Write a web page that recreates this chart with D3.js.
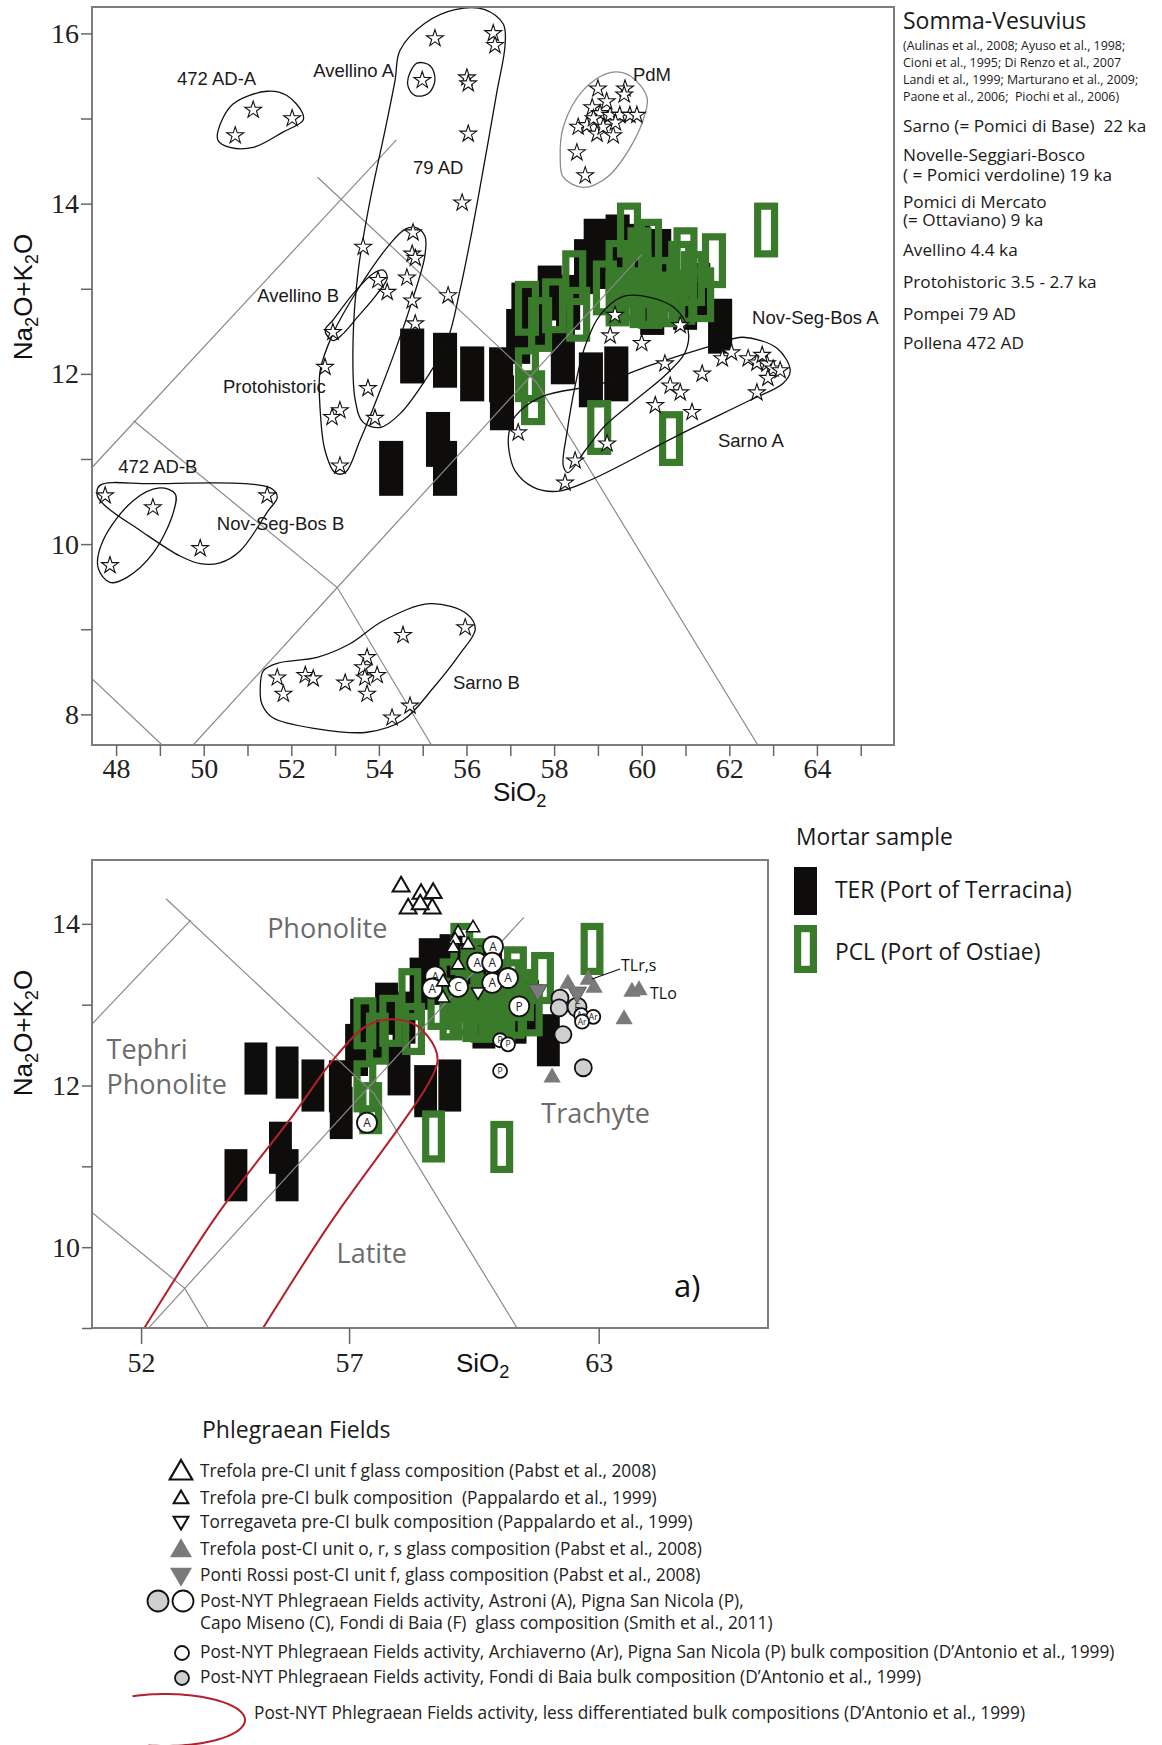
<!DOCTYPE html>
<meta charset="utf-8">
<head>
<style>
  body { margin: 0; background: #fff; }
  svg { display: block; font-family: 'Open Sans', sans-serif; }
  .tas { fill: none; stroke: #8a8a8a; stroke-width: 1.2px; }
  .field { fill: none; stroke: #111; stroke-width: 1.3px; }
  .axis line { stroke: #666; stroke-width: 1.5px; }
  .axis text { font-family: 'Liberation Serif', serif; font-size: 28px; fill: #222; }
  .lbl { font-family: 'Liberation Sans', Arial, sans-serif; font-size: 18.5px; fill: #1a1a1a; }
  .rock { font-size: 27px; fill: #6b6b6b; }
  .leg { font-size: 17.3px; fill: #222; white-space: pre; }
</style>
</head>
<body>
<svg width="1162" height="1745"></svg>
<script src="https://d3js.org/d3.v7.min.js"></script>
<script>

// ---- mortar samples, centre of each analysis box [SiO2, Na2O+K2O] ----
const terSamples = [
  [54.76,12.21],[55.51,12.16],[56.13,12.0],[54.28,10.89],[55.35,11.23],[55.51,10.89],
  [56.79,11.99],[56.81,11.66],[57.18,12.44],[57.52,12.64],[58.32,12.84],[58.73,13.26],
  [59.12,13.32],[58.2,12.2],[58.84,11.93],[59.42,12.0],[59.92,13.44],[60.4,13.38],
  [60.24,12.78],[61.29,12.98],[61.79,12.56],[60.99,12.84],[58.95,13.5],[59.45,13.55],
  [57.9,12.95],[57.3,12.75]
];
const pclSamples = [
  [59.71,13.69],[61.65,13.33],[62.84,13.69],[58.46,13.13],[57.68,12.58],[57.38,11.99],
  [57.52,11.72],[59.03,11.37],[60.67,11.24],[60.19,13.5],[59.16,13.01],[58.55,12.7],
  [59.69,12.93],[60.88,13.24],[61.17,13.12],[60.72,12.87],[61.38,12.93],[57.38,12.77],
  [58.0,12.8],[60.2,12.85],[59.45,13.25],[59.95,13.1],[60.45,13.05],[59.45,12.88],
  [60.0,12.86],[60.5,12.88],[59.95,13.4],[60.95,12.9],[61.0,13.4]
];

// ---- Somma-Vesuvius literature data (stars) ----
const vesuviusStars = [
  [51.13,15.10],[50.72,14.80],[52.02,15.0],
  [54.99,15.45],
  [55.28,15.94],[56.61,16.0],[56.65,15.86],[56.01,15.48],[56.04,15.41],[56.04,14.82],[55.9,14.01],
  [53.64,13.49],[54.78,13.66],[54.76,13.41],[54.83,13.36],[54.64,13.13],[53.98,13.1],[54.19,12.96],
  [54.76,12.86],[55.58,12.92],[54.83,12.59],[52.95,12.49],[52.77,12.08],[53.75,11.83],[53.11,11.57],
  [52.93,11.49],[53.91,11.48],[53.11,10.92],
  [47.75,10.57],[48.84,10.43],[47.86,9.75],[49.92,9.95],[51.45,10.57],
  [51.68,8.43],[51.82,8.24],[52.32,8.46],[52.5,8.42],[53.23,8.37],[53.73,8.67],[53.64,8.55],
  [53.68,8.43],[53.96,8.46],[53.73,8.24],[54.55,8.93],[55.97,9.02],[54.71,8.10],[54.3,7.96],
  [59.0,15.35],[59.62,15.35],[58.87,15.13],[59.05,15.06],[59.28,15.04],[59.5,15.04],[59.73,15.04],
  [59.89,15.04],[58.55,14.9],[58.75,14.92],[58.98,14.82],[59.12,14.9],[59.35,14.8],[58.52,14.6],
  [58.71,14.33],[59.2,15.2],[59.4,14.95],[58.9,15.0],[59.6,15.28],
  [59.39,12.69],[59.28,12.45],[60.0,12.36],[60.88,12.57],[60.53,12.12],[61.38,12.0],[60.65,11.86],
  [60.88,11.78],[60.31,11.63],[61.15,11.55],[61.84,12.18],[62.43,12.18],[62.63,12.13],[62.86,12.12],
  [63.0,12.06],[63.16,12.04],[62.88,11.95],[62.63,11.78],[57.18,11.31],[59.21,11.18],[58.48,10.98],
  [58.25,10.72],[62.05,12.25],[62.75,12.22]
];

// ---- eruption fields (closed outlines) ----
const outline472A = [[50.33,14.86],[50.67,15.17],[51.45,15.32],[51.9,15.27],[52.25,15.07],[52.27,14.98],[51.81,14.84],[51.13,14.66],[50.6,14.66],[50.33,14.74]];
const outlineAvellinoA = [[54.67,15.48],[54.87,15.65],[55.17,15.62],[55.28,15.45],[55.12,15.29],[54.83,15.27],[54.67,15.37]];
const outline79AD = [[54.48,15.8],[55.05,16.12],[55.74,16.28],[56.42,16.28],[56.84,16.11],[56.88,15.86],[56.7,15.33],[56.42,14.51],[56.13,13.69],[55.85,12.98],[55.56,12.39],[55.05,11.92],[54.48,11.53],[54.03,11.37],[53.64,11.43],[53.46,11.69],[53.41,12.39],[53.53,13.22],[53.8,14.04],[54.14,14.86],[54.37,15.45]];
const outlineAvellinoB = [[52.95,12.39],[52.77,12.51],[52.95,12.63],[53.41,12.94],[53.87,13.18],[54.1,13.22],[54.19,13.13],[53.96,12.94],[53.5,12.66],[53.18,12.47]];
const outlineProto = [[54.83,13.72],[55.05,13.62],[55.05,13.39],[54.76,12.86],[54.37,12.27],[53.98,11.74],[53.57,11.22],[53.23,10.84],[53.0,10.84],[52.77,11.1],[52.66,11.57],[52.66,12.04],[52.95,12.47],[53.53,13.0],[54.26,13.53],[54.6,13.7]];
const outline472B = [[47.59,9.72],[47.7,10.04],[48.39,10.51],[49.0,10.66],[49.35,10.59],[49.3,10.36],[48.84,9.89],[48.25,9.61],[47.86,9.55]];
const outlineNSBB = [[47.63,10.69],[48.78,10.71],[51.52,10.66],[51.68,10.55],[51.47,10.39],[50.83,9.92],[50.37,9.78],[49.92,9.77],[49.46,9.86],[48.55,10.16],[47.75,10.45],[47.57,10.57]];
const outlineSarnoB = [[51.29,8.28],[51.36,8.51],[51.68,8.6],[52.59,8.67],[53.34,8.83],[54.1,9.1],[55.17,9.3],[56.01,9.18],[56.2,9.0],[55.85,8.71],[55.24,8.31],[54.55,7.93],[53.73,7.79],[52.59,7.83],[51.58,7.96],[51.33,8.12]];
const outlinePdM = [[58.14,14.54],[58.21,14.9],[58.66,15.33],[59.28,15.54],[59.74,15.5],[60.12,15.25],[60.08,15.06],[59.74,14.66],[59.21,14.31],[58.66,14.19],[58.21,14.31]];
const outlineNSBA = [[59.58,12.91],[60.19,12.9],[60.76,12.77],[61.06,12.51],[60.99,12.25],[60.53,11.98],[59.85,11.69],[59.16,11.39],[58.71,11.1],[58.32,10.84],[58.21,10.92],[58.3,11.33],[58.48,11.86],[58.71,12.33],[59.05,12.69]];
const outlineSarnoA = [[56.97,11.31],[57.11,11.5],[57.71,11.73],[59.05,11.88],[60.19,12.1],[61.72,12.35],[62.31,12.43],[63.09,12.3],[63.39,12.04],[63.23,11.89],[62.47,11.69],[60.95,11.31],[58.82,10.75],[58.07,10.62],[57.52,10.67],[57.11,10.86],[56.97,11.1]];

// field labels [text, SiO2, alkali]
const fieldLabels = [
  ["472 AD-A",49.39,15.39],["Avellino A",52.5,15.49],["79 AD",54.78,14.35],["PdM",59.8,15.44],
  ["Avellino B",51.22,12.84],["Protohistoric",50.44,11.78],["Nov-Seg-Bos A",62.52,12.59],
  ["Sarno A",61.74,11.14],["472 AD-B",48.05,10.83],["Nov-Seg-Bos B",50.3,10.16],["Sarno B",55.69,8.3]
];

// ---- TAS boundaries ----
const tasTop = [
  [[47.45,10.9],[54.4,14.75]],
  [[52.6,14.31],[57.6,11.9],[62.65,7.64]],
  [[47.45,8.42],[49.05,7.64]],
  [[49.76,7.64],[53.05,9.49],[60.0,13.4]],
  [[48.4,11.45],[53.05,9.49],[55.2,7.64]]
];
const tasBottom = [
  [[48.4,11.45],[53.2,14.05]],
  [[52.6,14.31],[57.6,11.9],[62.65,7.64]],
  [[49.76,7.64],[53.05,9.49],[61.2,14.08]],
  [[48.4,11.45],[53.05,9.49],[55.2,7.64]]
];

// ---- Phlegraean Fields ----
const trefolaGlass = [[58.25,14.46],[58.73,14.37],[59.02,14.38],[58.42,14.19],[59.0,14.19],[58.71,14.24]];
const trefolaBulk = [[59.98,13.95],[59.62,13.89],[59.55,13.8],[59.86,13.74],[59.5,13.7],[59.62,13.49],[59.26,13.28],[59.26,13.08]];
const torregavetaBulk = [[60.1,13.16]];
const trefolaPostGlass = [[62.26,13.26],[62.75,13.31],[62.89,13.21],[63.8,13.16],[63.97,13.18],[63.61,12.82],[61.88,12.1]];
const pontiRossiGlass = [[61.54,13.18],[62.48,13.15]];
const nytGlassWhite = [[60.46,13.72,"A"],[60.08,13.52,"A"],[60.44,13.52,"A"],[60.44,13.27,"A"],[60.82,13.33,"A"],[59.62,13.22,"C"],[59.07,13.35,"A"],[59.0,13.2,"A"],[61.09,12.98,"P"],[57.43,11.54,"A"]];
const nytGlassGrey = [[62.48,12.97,"F"]];
const nytBulkWhite = [[60.63,12.56,"P"],[60.82,12.51,"P"],[60.63,12.18,"P"],[62.58,12.87,"Ar"],[62.87,12.85,"Ar"],[62.6,12.79,"Ar"]];
const nytBulkGrey = [[62.07,13.08],[62.05,12.96],[62.14,12.63],[62.63,12.22]];
const nytLessDiff = [[51.6,8.6],[53.83,10.4],[55.65,11.63],[56.62,12.32],[57.43,12.74],[58.03,12.82],[58.63,12.74],[59.07,12.46],[59.12,12.28],[58.88,12.0],[58.23,11.5],[56.55,10.3],[54.45,8.6]];

const rockNames = [["Phonolite",55.03,13.82],["Tephri",51.17,12.33],["Phonolite",51.17,11.9],["Trachyte",61.62,11.54],["Latite",56.7,9.81]];

const BOX_W = 0.55, BOX_H = 0.645;
const GREEN = "#3a7a2b", GREY = "#7a7a7a", RED = "#b3202c";

const svg = d3.select("svg");

const xTop = d3.scaleLinear().domain([47.45, 65.76]).range([92, 894]);
const yTop = d3.scaleLinear().domain([7.64, 16.31]).range([745, 7]);
const xBot = d3.scaleLinear().domain([50.82, 67.07]).range([92, 768]);
const yBot = d3.scaleLinear().domain([9.0, 14.79]).range([1328, 860]);

const defs = svg.append("defs");
function clip(id, xs, ys) {
  defs.append("clipPath").attr("id", id).append("rect")
    .attr("x", xs.range()[0]).attr("y", ys.range()[1])
    .attr("width", xs.range()[1] - xs.range()[0]).attr("height", ys.range()[0] - ys.range()[1]);
}
clip("cTop", xTop, yTop);
clip("cBot", xBot, yBot);

function boxes(g, xs, ys, data, filled) {
  const inset = filled ? 0 : 3.6;
  g.append("g").selectAll("rect").data(data).join("rect")
    .attr("x", d => xs(d[0] - BOX_W / 2) + inset)
    .attr("y", d => ys(d[1] + BOX_H / 2) + inset)
    .attr("width", d => xs(d[0] + BOX_W / 2) - xs(d[0] - BOX_W / 2) - 2 * inset)
    .attr("height", d => ys(d[1] - BOX_H / 2) - ys(d[1] + BOX_H / 2) - 2 * inset)
    .attr("fill", filled ? "#0e0d0b" : "none")
    .attr("stroke", filled ? "none" : GREEN)
    .attr("stroke-width", filled ? 0 : 7.2);
}

function tas(g, xs, ys, lines) {
  const line = d3.line().x(d => xs(d[0])).y(d => ys(d[1]));
  g.append("g").selectAll("path").data(lines).join("path").attr("class", "tas").attr("d", line);
}

function frame(xs, ys) {
  svg.append("rect")
    .attr("x", xs.range()[0]).attr("y", ys.range()[1])
    .attr("width", xs.range()[1] - xs.range()[0]).attr("height", ys.range()[0] - ys.range()[1])
    .attr("fill", "none").attr("stroke", "#7d7d7d").attr("stroke-width", 2);
}

function chemLabel(text, x, y, rotate, size) {
  const t = svg.append("text")
    .attr("transform", rotate ? `translate(${x},${y}) rotate(-90)` : `translate(${x},${y})`)
    .attr("text-anchor", rotate ? "middle" : "start")
    .style("font-family", "'Liberation Sans', Arial, sans-serif")
    .style("font-size", size + "px").attr("fill", "#111");
  // split on digits -> subscripts
  text.split(/(\d)/).filter(s => s).forEach(s => {
    if (/\d/.test(s)) t.append("tspan").attr("dy", 6).style("font-size", (size * 0.7) + "px").text(s);
    else t.append("tspan").attr("dy", t.selectAll("tspan").size() ? -6 : 0).text(s);
  });
}

// ================= TOP : Somma-Vesuvius =================
const gTop = svg.append("g").attr("clip-path", "url(#cTop)");
boxes(gTop, xTop, yTop, terSamples, true);
boxes(gTop, xTop, yTop, pclSamples, false);
tas(gTop, xTop, yTop, tasTop);

const closed = d3.line().curve(d3.curveCatmullRomClosed.alpha(0.5)).x(d => xTop(d[0])).y(d => yTop(d[1]));
const fields = [outline472A, outlineAvellinoA, outline79AD, outlineAvellinoB, outlineProto,
  outline472B, outlineNSBB, outlineSarnoB, outlineNSBA, outlineSarnoA];
gTop.append("g").selectAll("path").data(fields).join("path").attr("class", "field").attr("d", closed);
gTop.append("path").attr("class", "field").style("stroke", "#8c8c8c").attr("d", closed(outlinePdM));

const star = d3.symbol(d3.symbolStar, 88);
gTop.append("g").selectAll("path").data(vesuviusStars).join("path")
  .attr("transform", d => `translate(${xTop(d[0])},${yTop(d[1])})`)
  .attr("d", star).attr("fill", "#fff").attr("stroke", "#111").attr("stroke-width", 1.1);

svg.append("g").selectAll("text").data(fieldLabels).join("text").attr("class", "lbl")
  .attr("x", d => xTop(d[1])).attr("y", d => yTop(d[2])).text(d => d[0]);

frame(xTop, yTop);

svg.append("g").attr("class", "axis").attr("transform", "translate(92,0)")
  .call(d3.axisLeft(yTop).tickValues(d3.range(8, 17)).tickSize(11).tickPadding(2)
    .tickFormat(d => d % 2 ? "" : d))
  .call(g => g.select(".domain").remove());
svg.append("g").attr("class", "axis").attr("transform", "translate(0,745)")
  .call(d3.axisBottom(xTop).tickValues(d3.range(48, 66)).tickSize(11).tickPadding(2)
    .tickFormat(d => d % 2 ? "" : d))
  .call(g => g.select(".domain").remove());

chemLabel("Na2O+K2O", 38, 297, true, 26);
chemLabel("SiO2", 493, 807, false, 26);

// Somma-Vesuvius key
const vesuviusKey = [
  ["Somma-Vesuvius", 29, 23],
  ["(Aulinas et al., 2008; Ayuso et al., 1998;", 50, 12.4],
  ["Cioni et al., 1995; Di Renzo et al., 2007", 67, 12.4],
  ["Landi et al., 1999; Marturano et al., 2009;", 84, 12.4],
  ["Paone et al., 2006;  Piochi et al., 2006)", 101, 12.4],
  ["Sarno (= Pomici di Base)  22 ka", 132, 17.2],
  ["Novelle-Seggiari-Bosco", 161, 17.2],
  ["( = Pomici verdoline) 19 ka", 181, 17.2],
  ["Pomici di Mercato", 208, 17.2],
  ["(= Ottaviano) 9 ka", 226, 17.2],
  ["Avellino 4.4 ka", 256, 17.2],
  ["Protohistoric 3.5 - 2.7 ka", 288, 17.2],
  ["Pompei 79 AD", 320, 17.2],
  ["Pollena 472 AD", 349, 17.2]
];
svg.append("g").selectAll("text").data(vesuviusKey).join("text")
  .attr("x", 903).attr("y", d => d[1]).style("font-size", d => d[2] + "px")
  .style("white-space", "pre").attr("fill", "#1a1a1a").text(d => d[0]);

// ================= BOTTOM : Phlegraean Fields =================
const gBot = svg.append("g").attr("clip-path", "url(#cBot)");
boxes(gBot, xBot, yBot, terSamples, true);
boxes(gBot, xBot, yBot, pclSamples, false);
tas(gBot, xBot, yBot, tasBottom);

gBot.append("path")
  .attr("d", d3.line().curve(d3.curveCatmullRom.alpha(0.5)).x(d => xBot(d[0])).y(d => yBot(d[1]))(nytLessDiff))
  .attr("fill", "none").attr("stroke", RED).attr("stroke-width", 2);

svg.append("g").selectAll("text").data(rockNames).join("text").attr("class", "rock")
  .attr("x", d => xBot(d[1])).attr("y", d => yBot(d[2])).text(d => d[0]);

function tri(g, data, area, fill, stroke, sw, flip) {
  g.append("g").selectAll("path").data(data).join("path")
    .attr("transform", d => `translate(${xBot(d[0])},${yBot(d[1])})${flip ? " rotate(180)" : ""}`)
    .attr("d", d3.symbol(d3.symbolTriangle, area))
    .attr("fill", fill).attr("stroke", stroke).attr("stroke-width", sw).attr("stroke-linejoin", "miter");
}
function dots(g, data, r, fill, fontSize) {
  const s = g.append("g").selectAll("g").data(data).join("g")
    .attr("transform", d => `translate(${xBot(d[0])},${yBot(d[1])})`);
  s.append("circle").attr("r", r).attr("fill", fill).attr("stroke", "#111").attr("stroke-width", 1.8);
  s.filter(d => d[2]).append("text").attr("text-anchor", "middle").attr("dy", "0.36em")
    .style("font-size", fontSize + "px").attr("fill", "#222").text(d => d[2]);
}
const gMk = svg.append("g").attr("clip-path", "url(#cBot)");
dots(gMk, nytBulkGrey, 8.5, "#cfcfcf", 0);
dots(gMk, nytGlassGrey, 9.5, "#cfcfcf", 11);
tri(gMk, pontiRossiGlass, 150, GREY, "#555", 1, true);
tri(gMk, trefolaPostGlass, 130, GREY, "none", 0, false);
dots(gMk, nytGlassWhite, 10, "#fff", 12);
dots(gMk, nytBulkWhite, 7, "#fff", 8.5);
tri(gMk, trefolaGlass, 125, "#fff", "#111", 2, false);
tri(gMk, trefolaBulk, 75, "#fff", "#111", 1.6, false);
tri(gMk, torregavetaBulk, 75, "#fff", "#111", 1.6, true);

svg.append("line").attr("x1", 592).attr("y1", 979).attr("x2", 620).attr("y2", 969)
  .attr("stroke", "#111").attr("stroke-width", 1.3);
svg.append("text").attr("x", 621).attr("y", 971).style("font-size", "16px").attr("fill", "#111").text("TLr,s");
svg.append("text").attr("x", 650).attr("y", 999).style("font-size", "16px").attr("fill", "#111").text("TLo");
svg.append("text").attr("x", 674).attr("y", 1297).style("font-size", "31px").attr("fill", "#111").text("a)");

frame(xBot, yBot);

svg.append("g").attr("class", "axis").attr("transform", "translate(92,0)")
  .call(d3.axisLeft(yBot).tickValues(d3.range(9, 15)).tickSize(10).tickPadding(2)
    .tickFormat(d => d % 2 ? "" : d))
  .call(g => g.select(".domain").remove());
svg.append("g").attr("class", "axis").attr("transform", "translate(0,1328)")
  .call(d3.axisBottom(xBot).tickValues([52, 57, 63]).tickSize(16).tickPadding(8))
  .call(g => g.select(".domain").remove());

chemLabel("Na2O+K2O", 38, 1033, true, 26);
chemLabel("SiO2", 456, 1378, false, 26);

// mortar legend
svg.append("text").attr("x", 796).attr("y", 845).style("font-size", "22.8px").attr("fill", "#1a1a1a").text("Mortar sample");
svg.append("rect").attr("x", 794).attr("y", 867).attr("width", 23).attr("height", 48).attr("fill", "#0e0d0b");
svg.append("rect").attr("x", 797.6).attr("y", 928.6).attr("width", 15.8).attr("height", 40.8)
  .attr("fill", "none").attr("stroke", GREEN).attr("stroke-width", 7.2);
svg.append("text").attr("x", 835).attr("y", 898).style("font-size", "22.8px").attr("fill", "#1a1a1a").text("TER (Port of Terracina)");
svg.append("text").attr("x", 835).attr("y", 960).style("font-size", "22.8px").attr("fill", "#1a1a1a").text("PCL (Port of Ostiae)");

// Phlegraean Fields legend
svg.append("text").attr("x", 202).attr("y", 1438).style("font-size", "23px").attr("fill", "#1a1a1a").text("Phlegraean Fields");
const phlegKey = [
  ["Trefola pre-CI unit f glass composition (Pabst et al., 2008)", 1471, 200],
  ["Trefola pre-CI bulk composition  (Pappalardo et al., 1999)", 1498, 200],
  ["Torregaveta pre-CI bulk composition (Pappalardo et al., 1999)", 1522, 200],
  ["Trefola post-CI unit o, r, s glass composition (Pabst et al., 2008)", 1549, 200],
  ["Ponti Rossi post-CI unit f, glass composition (Pabst et al., 2008)", 1575, 200],
  ["Post-NYT Phlegraean Fields activity, Astroni (A), Pigna San Nicola (P),", 1601, 200],
  ["Capo Miseno (C), Fondi di Baia (F)  glass composition (Smith et al., 2011)", 1623, 200],
  ["Post-NYT Phlegraean Fields activity, Archiaverno (Ar), Pigna San Nicola (P) bulk composition (D\u2019Antonio et al., 1999)", 1652, 200],
  ["Post-NYT Phlegraean Fields activity, Fondi di Baia bulk composition (D\u2019Antonio et al., 1999)", 1677, 200],
  ["Post-NYT Phlegraean Fields activity, less differentiated bulk compositions (D\u2019Antonio et al., 1999)", 1713, 254]
];
svg.append("g").selectAll("text").data(phlegKey).join("text").attr("class", "leg")
  .attr("x", d => d[2]).attr("y", d => d[1] + 6).text(d => d[0]);

const keyTri = (y, area, fill, stroke, sw, flip) => svg.append("path")
  .attr("transform", `translate(181,${y})${flip ? " rotate(180)" : ""}`)
  .attr("d", d3.symbol(d3.symbolTriangle, area)).attr("fill", fill)
  .attr("stroke", stroke).attr("stroke-width", sw);
keyTri(1473, 220, "#fff", "#111", 2.2, false);
keyTri(1499, 95, "#fff", "#111", 2, false);
keyTri(1521, 95, "#fff", "#111", 2, true);
keyTri(1551, 210, GREY, "none", 0, false);
keyTri(1574, 210, GREY, "none", 0, true);
svg.append("circle").attr("cx", 158).attr("cy", 1601).attr("r", 10.5).attr("fill", "#cfcfcf").attr("stroke", "#111").attr("stroke-width", 1.8);
svg.append("circle").attr("cx", 183).attr("cy", 1601).attr("r", 10.5).attr("fill", "#fff").attr("stroke", "#111").attr("stroke-width", 1.8);
svg.append("circle").attr("cx", 182).attr("cy", 1653).attr("r", 7).attr("fill", "#fff").attr("stroke", "#111").attr("stroke-width", 1.8);
svg.append("circle").attr("cx", 182).attr("cy", 1678).attr("r", 7).attr("fill", "#cfcfcf").attr("stroke", "#111").attr("stroke-width", 1.8);
const arc = d3.range(-114, 105, 3).map(a => [165 + 80 * Math.cos(a * Math.PI / 180), 1720 + 26 * Math.sin(a * Math.PI / 180)]);
svg.append("path").attr("d", d3.line()(arc)).attr("fill", "none").attr("stroke", RED).attr("stroke-width", 2);

</script>
</body>
